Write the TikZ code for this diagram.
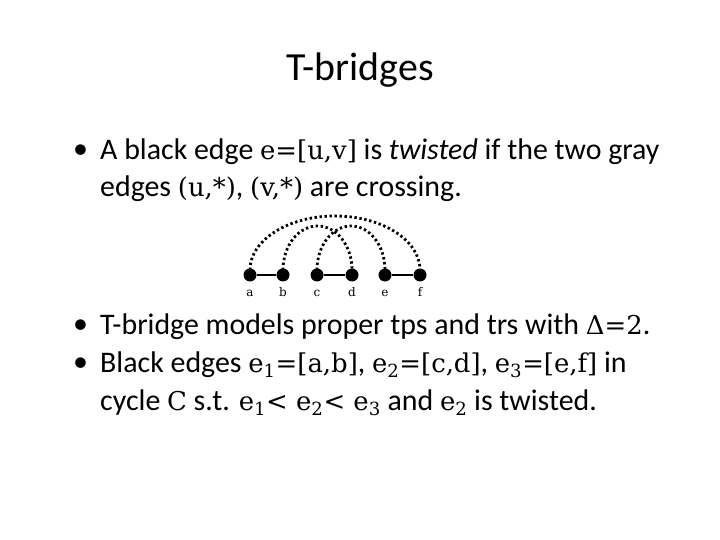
\documentclass[tikz,border=0pt]{standalone}
\usepackage{fontspec}
\setmainfont{Carlito}
\newfontfamily\cm{DejaVu Serif}
\newcommand{\mth}[1]{{\cm\fontsize{26}{28}\selectfont #1}}
\begin{document}
\begin{tikzpicture}[x=1bp,y=-1bp,
  txt/.style={anchor=west,inner sep=0pt,font=\fontsize{30}{32}\selectfont},
  bul/.style={anchor=west,inner sep=0pt,font=\fontsize{30}{32}\selectfont},
  dot/.style={circle,fill=black,inner sep=0pt,minimum size=13bp},
  lab/.style={font=\fontsize{12}{12}\selectfont\cm,inner sep=0pt,anchor=base},
  arcd/.style={line width=2.8bp,dash pattern=on 2.4bp off 2.6bp}]
\useasboundingbox (0,0) rectangle (720,540);
\node[inner sep=0pt,font=\fontsize{40}{44}\selectfont] (title) at (360,70) {T-bridges};
\node[bul] (b1) at (73,152) {•};
\node[txt] (l1) at (100,152) {A black edge \mth{e=[u,v]} is \textit{twisted} if the two gray};
\node[txt] (l2) at (100,189) {edges \mth{(u,*)}, \mth{(v,*)} are crossing.};
\node[bul] (b2) at (73,327) {•};
\node[txt] (l3) at (100,327) {T-bridge models proper tps and trs with \mth{Δ=2}.};
\node[bul] (b3) at (73,365) {•};
\node[txt] (l4) at (100,365) {Black edges \mth{e\textsubscript{1}=[a,b]}, \mth{e\textsubscript{2}=[c,d]}, \mth{e\textsubscript{3}=[e,f]} in};
\node[txt] (l5) at (100,403) {cycle \mth{C} s.t. \mth{e\textsubscript{1}< e\textsubscript{2}< e\textsubscript{3}} and \mth{e\textsubscript{2}} is twisted.};
\foreach \n/\x in {a/250,b/283,c/317,d/352,e/385,f/420}{
  \node[dot] (\n) at (\x,275) {};
  \node[lab] (l\n) at (\x,296) {\n};
}
\draw[arcd] (a.center) ++(0,-5) arc[start angle=180,end angle=360,x radius=85,y radius=54];
\draw[arcd] (b.center) ++(0,-5) arc[start angle=180,end angle=360,x radius=34.5,y radius=44];
\draw[arcd] (c.center) ++(0,-5) arc[start angle=180,end angle=360,x radius=34,y radius=44];
\draw[line width=2bp] (a)--(b) (c)--(d) (e)--(f);
\end{tikzpicture}
\end{document}
